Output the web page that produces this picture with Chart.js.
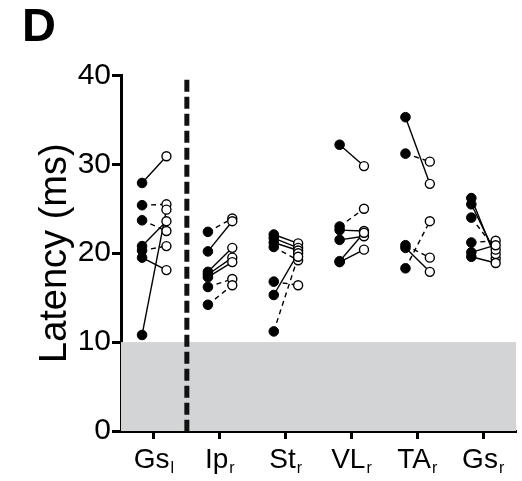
<!DOCTYPE html>
<html>
<head>
<meta charset="utf-8">
<script src="https://cdn.jsdelivr.net/npm/chart.js@4"></script>
<style>
  body { margin: 0; background: #fff; }
  #wrap { width: 522px; height: 481px; position: relative; }
</style>
</head>
<body>
<div id="wrap"><canvas id="latencyChart"></canvas></div>
<script>
// ====================================
// DATA
// ====================================
const categories = ["Gs", "Ip", "St", "VL", "TA", "Gs"];
const subscripts = ["l", "r", "r", "r", "r", "r"];
const yTicks = [0, 10, 20, 30, 40];

// filled = before (pre), open = after (post), 1 = dashed connector
const gsLeftPre = [27.9, 25.4, 23.7, 20.8, 20.3, 19.5, 10.8];
const gsLeftPost = [30.9, 25.5, 22.5, 23.6, 20.8, 18.1, 24.9];
const gsLeftDashed = [0, 1, 1, 0, 1, 0, 0];

const ipRightPre = [22.4, 20.2, 17.9, 17.6, 17.3, 16.2, 14.2];
const ipRightPost = [23.9, 23.6, 20.6, 19.5, 19.0, 17.1, 16.4];
const ipRightDashed = [1, 0, 0, 0, 0, 1, 1];

const stRightPre = [22.1, 21.7, 21.2, 20.7, 16.8, 15.3, 11.2];
const stRightPost = [21.1, 20.6, 20.3, 19.2, 16.4, 20.0, 19.6];
const stRightDashed = [0, 0, 0, 1, 1, 0, 1];

const vlRightPre = [32.2, 23.0, 22.6, 21.5, 19.1, 19.0];
const vlRightPost = [29.8, 25.0, 22.5, 21.9, 22.3, 20.4];
const vlRightDashed = [0, 1, 0, 0, 0, 0];

const taRightPre = [35.3, 31.2, 20.9, 20.6, 18.3];
const taRightPost = [27.8, 30.3, 19.5, 17.9, 23.6];
const taRightDashed = [0, 1, 1, 0, 1];

const gsRightPre = [26.2, 25.5, 24.0, 21.2, 20.1, 19.6];
const gsRightPost = [19.4, 19.9, 20.4, 21.4, 20.9, 18.9];
const gsRightDashed = [0, 0, 1, 1, 0, 0];

const shadedMax = 10;   // grey band 0-10 ms
const dividerAt = 0.5;  // dashed divider between Gs_l and Ip_r

const FONT = "'Liberation Sans', Arial, sans-serif";

// ====================================
// BUILD DATASETS
// ====================================
const groups = [
  { pre: gsLeftPre, post: gsLeftPost, dashed: gsLeftDashed },
  { pre: ipRightPre, post: ipRightPost, dashed: ipRightDashed },
  { pre: stRightPre, post: stRightPost, dashed: stRightDashed },
  { pre: vlRightPre, post: vlRightPost, dashed: vlRightDashed },
  { pre: taRightPre, post: taRightPost, dashed: taRightDashed },
  { pre: gsRightPre, post: gsRightPost, dashed: gsRightDashed },
];

const PRE_OFF = -0.18;
const POST_OFF = 0.19;

const datasets = [];
const filledPts = [];
const openPts = [];

groups.forEach(function (g, i) {
  g.pre.forEach(function (v, j) {
    const a = { x: i + PRE_OFF, y: v };
    const b = { x: i + POST_OFF, y: g.post[j] };
    filledPts.push(a);
    openPts.push(b);
    datasets.push({
      data: [a, b],
      showLine: true,
      borderColor: "#000",
      borderWidth: 1.4,
      borderDash: g.dashed[j] ? [5, 4] : [],
      pointRadius: 0,
      order: 2,
    });
  });
});

datasets.push({
  data: openPts,
  pointRadius: 4.5,
  pointBackgroundColor: "#fff",
  pointBorderColor: "#000",
  pointBorderWidth: 1.4,
  order: 1,
});
datasets.push({
  data: filledPts,
  pointRadius: 4.8,
  pointBackgroundColor: "#000",
  pointBorderColor: "#000",
  pointBorderWidth: 1,
  order: 0,
});

// ====================================
// PLUGINS
// ====================================
const shadePlugin = {
  id: "shade",
  beforeDatasetsDraw(chart) {
    const { ctx, chartArea, scales } = chart;
    const yTop = scales.y.getPixelForValue(shadedMax);
    const yBot = scales.y.getPixelForValue(0);
    ctx.save();
    ctx.fillStyle = "#d3d4d6";
    ctx.fillRect(chartArea.left, yTop, chartArea.right - chartArea.left, yBot - yTop);
    // dashed divider
    const x = scales.x.getPixelForValue(dividerAt);
    ctx.strokeStyle = "#111";
    ctx.lineWidth = 5;
    ctx.setLineDash([12, 5]);
    ctx.beginPath();
    ctx.moveTo(x, scales.y.getPixelForValue(39.5));
    ctx.lineTo(x, yBot);
    ctx.stroke();
    ctx.restore();
  },
};

const xLabelPlugin = {
  id: "xLabels",
  afterDraw(chart) {
    const { ctx, scales } = chart;
    const baseY = scales.y.getPixelForValue(0) + 37;
    ctx.save();
    ctx.fillStyle = "#000";
    ctx.textBaseline = "alphabetic";
    ctx.textAlign = "left";
    categories.forEach(function (c, i) {
      ctx.font = "28px " + FONT;
      const wb = ctx.measureText(c).width;
      ctx.font = "16px " + FONT;
      const ws = ctx.measureText(subscripts[i]).width;
      const x0 = scales.x.getPixelForValue(i) - (wb + ws + 1) / 2;
      ctx.font = "28px " + FONT;
      ctx.fillText(c, x0, baseY);
      ctx.font = "16px " + FONT;
      ctx.fillText(subscripts[i], x0 + wb + 1, baseY + 5);
    });
    ctx.restore();
  },
};

// ====================================
// CHART
// ====================================
const ctx = document.getElementById("latencyChart").getContext("2d");
new Chart(ctx, {
  type: "scatter",
  data: { datasets: datasets },
  plugins: [shadePlugin, xLabelPlugin],
  options: {
    responsive: true,
    maintainAspectRatio: false,
    animation: false,
    layout: { padding: { left: 22, right: 2, top: 0, bottom: 0 } },
    plugins: {
      legend: { display: false },
      tooltip: { enabled: false },
      title: {
        display: true,
        text: "D",
        align: "start",
        color: "#000",
        font: { family: FONT, size: 47, weight: "bold" },
        padding: { top: 0, bottom: 19 },
      },
    },
    scales: {
      x: {
        type: "linear",
        min: -0.5,
        max: 5.5,
        afterBuildTicks: function (axis) {
          axis.ticks = categories.map(function (c, i) { return { value: i }; });
        },
        afterFit: function (axis) { axis.height = 50; },
        border: { display: true, width: 3, color: "#000" },
        grid: {
          drawOnChartArea: false,
          drawTicks: true,
          tickLength: 8,
          tickWidth: 3,
          tickColor: "#000",
        },
        ticks: { display: false },
      },
      y: {
        min: 0,
        max: 40,
        afterBuildTicks: function (axis) {
          axis.ticks = yTicks.map(function (v) { return { value: v }; });
        },
        afterFit: function (axis) { axis.width = 99; },
        border: { display: true, width: 3, color: "#000" },
        grid: {
          drawOnChartArea: false,
          drawTicks: true,
          tickLength: 9,
          tickWidth: 3,
          tickColor: "#000",
        },
        ticks: {
          color: "#000",
          padding: 1,
          font: { family: FONT, size: 30 },
        },
        title: {
          display: true,
          text: "Latency (ms)",
          color: "#000",
          font: { family: FONT, size: 38 },
          padding: { top: 11, bottom: 0 },
        },
      },
    },
  },
});
</script>
</body>
</html>
